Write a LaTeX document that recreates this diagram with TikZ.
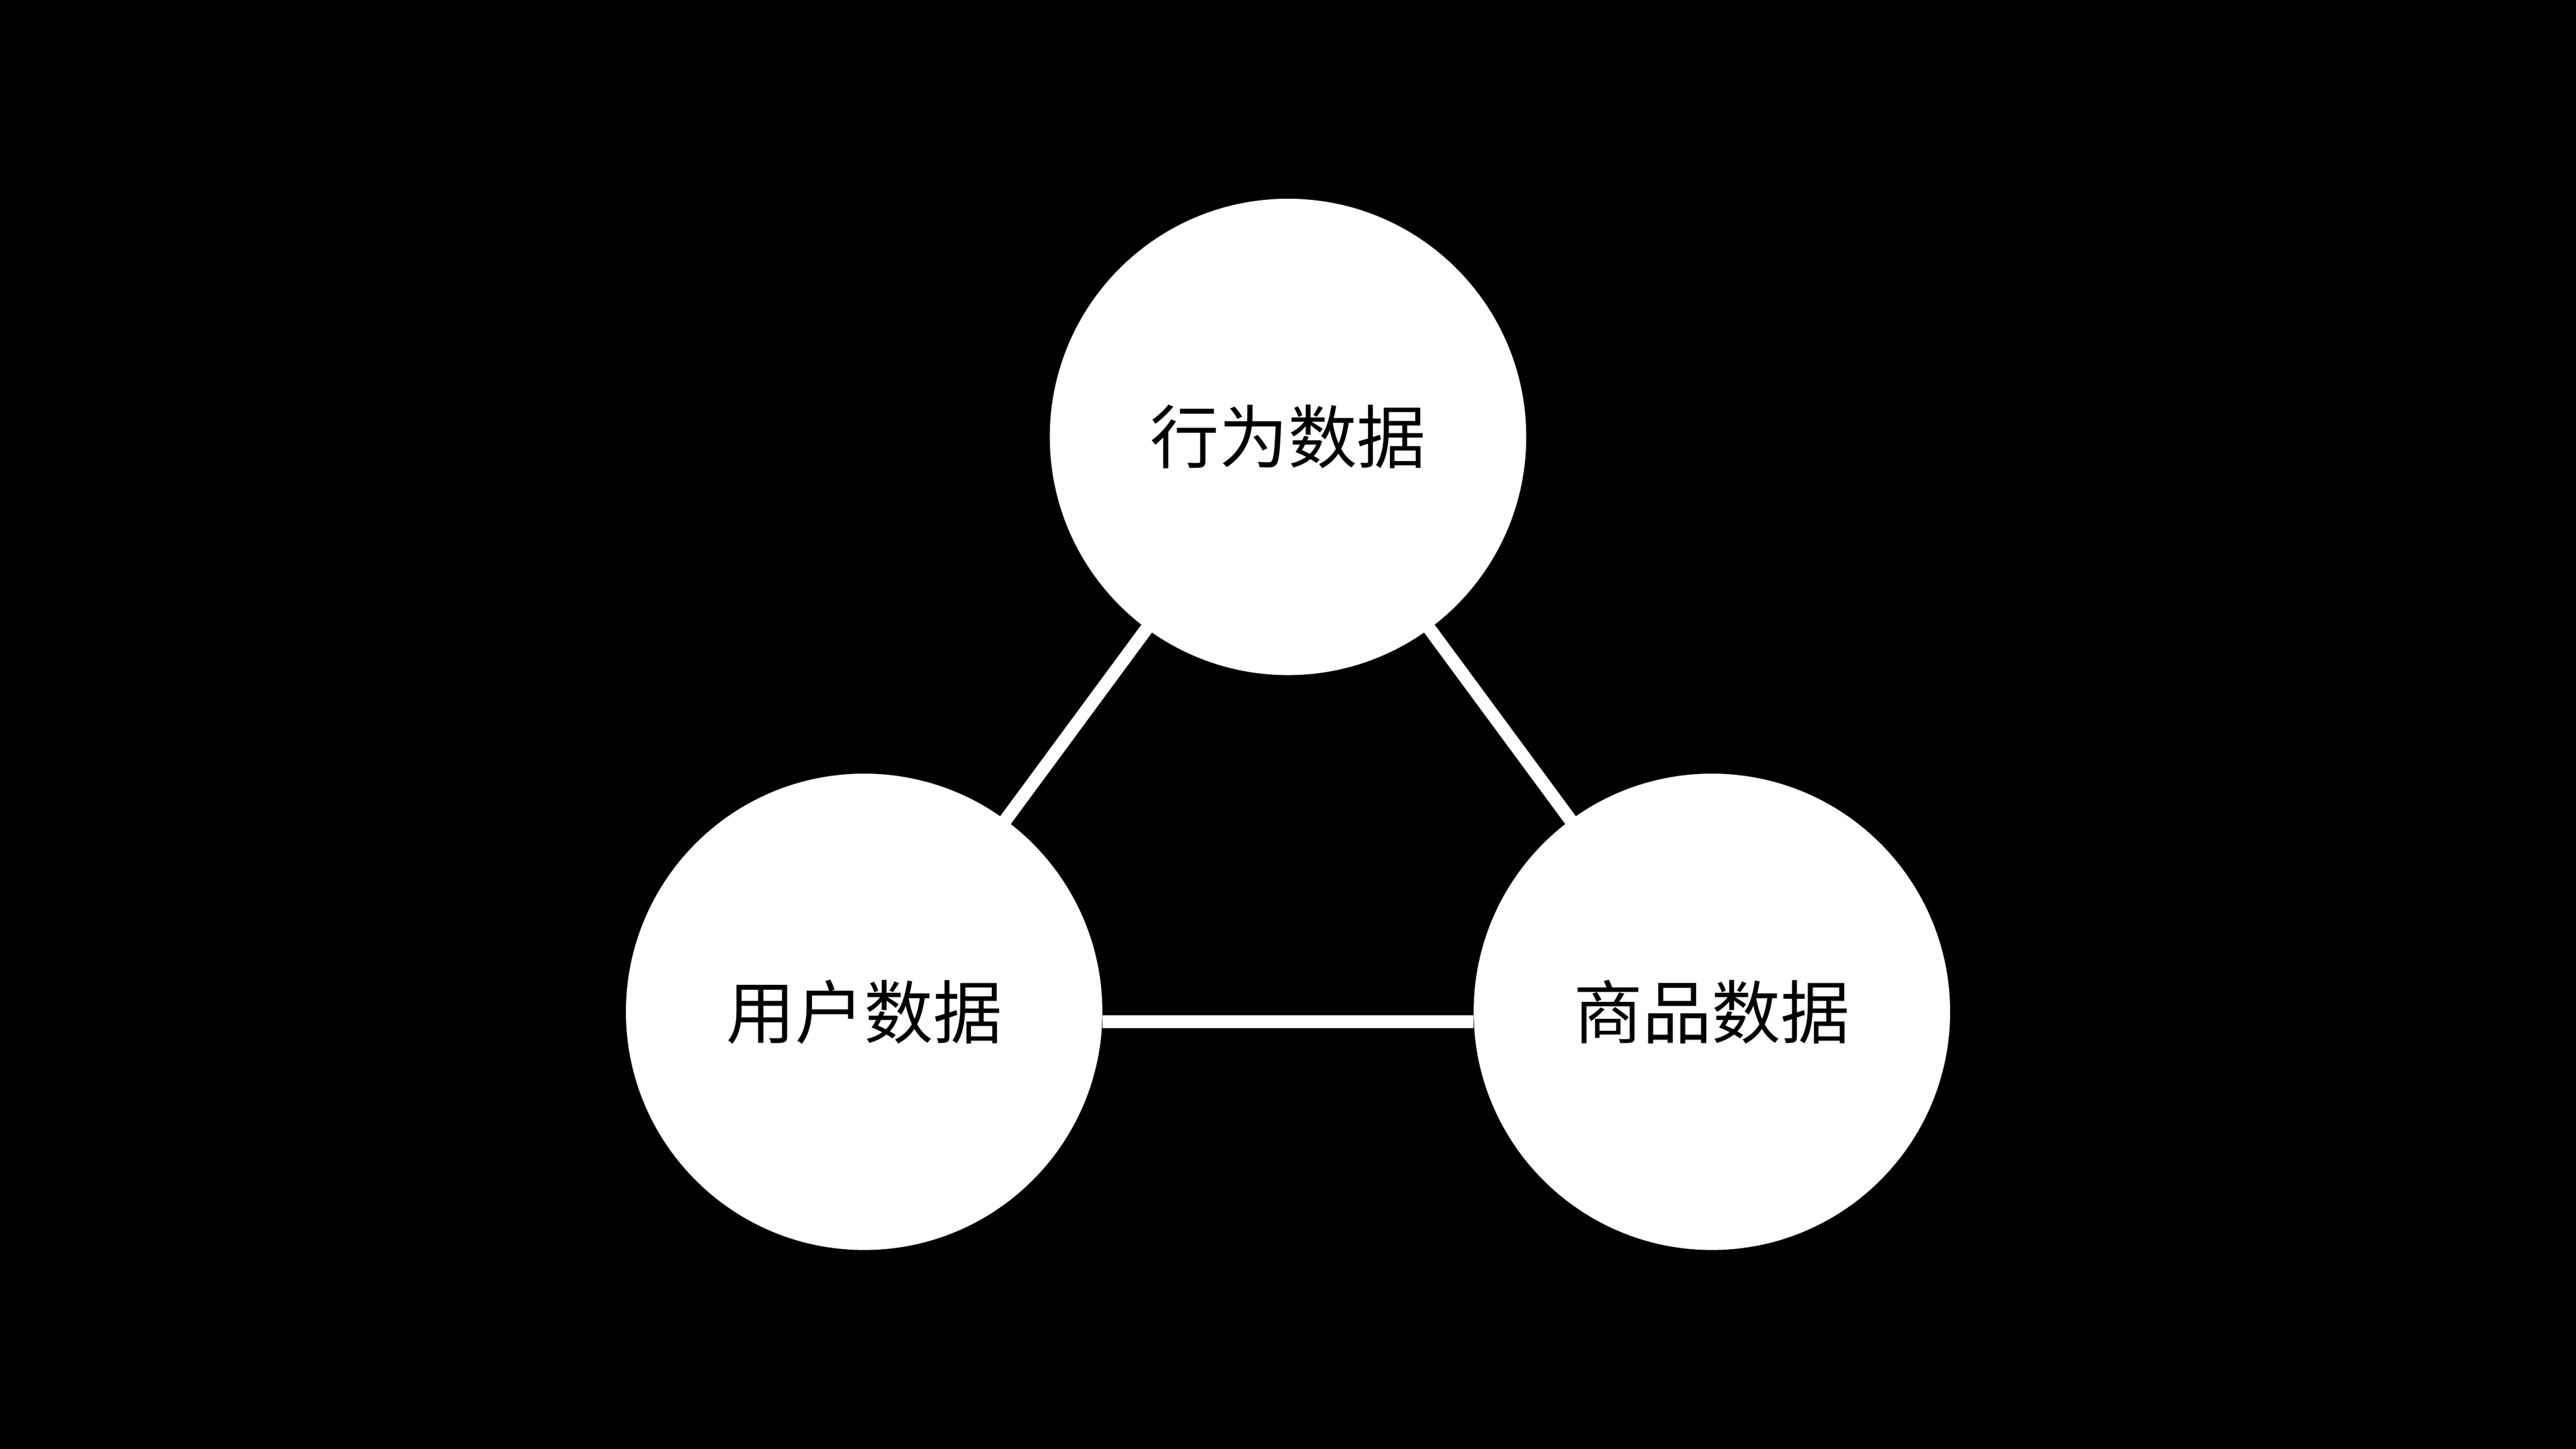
\documentclass[tikz,border=0pt]{standalone}
\usepackage{fontspec}
\newfontfamily\cjk{Noto Sans CJK SC}
\begin{document}
\begin{tikzpicture}[x=1pt,y=-1pt,
  blob/.style={circle,fill=white,minimum size=290pt,inner sep=0pt,font=\cjk\fontsize{42}{50}\selectfont,text=black},
  link/.style={draw=white,line width=8pt}]
\fill[black] (0,0) rectangle (1568,882);
\useasboundingbox (0,0) rectangle (1568,882);
\draw[link] (784,266) -- (526,616);
\draw[link] (784,266) -- (1042,616);
\node[blob] (t) at (784,266) {行为数据};
\node[blob] (u) at (526,616) {用户数据};
\node[blob] (p) at (1042,616) {商品数据};
\draw[link] ([yshift=-6pt]u.east) -- ([yshift=-6pt]p.west);
\end{tikzpicture}
\end{document}
